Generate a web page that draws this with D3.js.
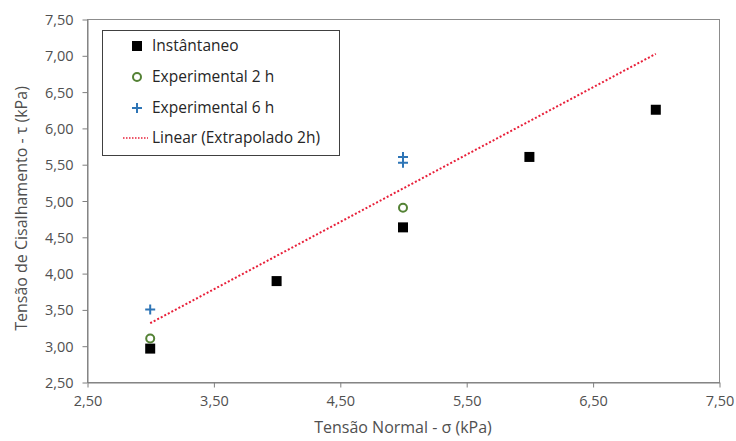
<!DOCTYPE html>
<html>
<head>
<meta charset="utf-8">
<script src="https://cdn.jsdelivr.net/npm/d3@7"></script>
<style>
  html, body { margin: 0; padding: 0; background: #fff; }
  svg { display: block; font-family: "Open Sans", "Noto Sans", sans-serif; }
</style>
</head>
<body>
<svg id="chart" width="736" height="441"></svg>
<script>
// Shear stress vs normal stress
const instX = [3, 4, 5, 6, 7];
const instY = [2.96, 3.89, 4.63, 5.60, 6.25];
const exp2X = [3, 5];
const exp2Y = [3.10, 4.90];
const exp6X = [3, 5, 5];
const exp6Y = [3.50, 5.52, 5.60];
const trendX = [3, 7];
const trendY = [3.31, 7.02];
const xTicks = [2.5, 3.5, 4.5, 5.5, 6.5, 7.5];
const yTicks = [2.5, 3.0, 3.5, 4.0, 4.5, 5.0, 5.5, 6.0, 6.5, 7.0, 7.5];
const legendLabels = ["Instântaneo", "Experimental 2 h", "Experimental 6 h", "Linear (Extrapolado 2h)"];

const svg = d3.select("#chart");
const m = { left: 87, right: 719, top: 19, bottom: 382 };
const x = d3.scaleLinear().domain([2.5, 7.5]).range([m.left, m.right]);
const y = d3.scaleLinear().domain([2.5, 7.5]).range([m.bottom, m.top]);
const fmt = v => d3.format(".2f")(v).replace(".", ",");
const axisColor = "#7f7f7f";
const textColor = "#505050";

// plot frame
svg.append("rect")
  .attr("x", m.left + 0.5).attr("y", m.top + 0.5)
  .attr("width", m.right - m.left).attr("height", m.bottom - m.top)
  .attr("fill", "none").attr("stroke", "#8c8c8c").attr("stroke-width", 1);

// axes
const xAxis = svg.append("g")
  .attr("transform", `translate(0.5,${m.bottom + 0.5})`)
  .call(d3.axisBottom(x).tickValues(xTicks).tickFormat(fmt).tickSizeOuter(0).tickSizeInner(5).tickPadding(8));
const yAxis = svg.append("g")
  .attr("transform", `translate(${m.left + 0.5},0.5)`)
  .call(d3.axisLeft(y).tickValues(yTicks).tickFormat(fmt).tickSizeOuter(0).tickSizeInner(5).tickPadding(9));
[xAxis, yAxis].forEach(g => {
  g.select(".domain").attr("stroke", axisColor);
  g.selectAll(".tick line").attr("stroke", axisColor);
  g.selectAll(".tick text").attr("fill", textColor).attr("font-size", 14.5)
    .attr("font-family", "'Open Sans', sans-serif");
});
yAxis.selectAll(".tick text").attr("dy", "0.35em");

// axis titles
svg.append("text")
  .attr("x", (m.left + m.right) / 2).attr("y", 433)
  .attr("text-anchor", "middle").attr("fill", textColor).attr("font-size", 16)
  .text("Tensão Normal - σ (kPa)");
svg.append("text")
  .attr("transform", `translate(27,${(m.top + m.bottom) / 2 + 8}) rotate(-90)`)
  .attr("text-anchor", "middle").attr("fill", textColor).attr("font-size", 16)
  .text("Tensão de Cisalhamento - τ (kPa)");

// trendline
svg.append("path")
  .datum(trendX.map((d, i) => [d, trendY[i]]))
  .attr("d", d3.line().x(d => x(d[0])).y(d => y(d[1])))
  .attr("fill", "none").attr("stroke", "#e8203a").attr("stroke-width", 2)
  .attr("stroke-dasharray", "2,2");

// markers
const sq = 10;
const green = "#548235", blue = "#2e75b6";
function square(g, cx, cy) {
  g.append("rect").attr("x", cx - sq / 2).attr("y", cy - sq / 2)
    .attr("width", sq).attr("height", sq).attr("fill", "#000");
}
function circle(g, cx, cy) {
  g.append("circle").attr("cx", cx).attr("cy", cy).attr("r", 4)
    .attr("fill", "#fff").attr("stroke", green).attr("stroke-width", 2);
}
function plus(g, cx, cy) {
  g.append("path").attr("d", `M${cx - 5},${cy}H${cx + 5}M${cx},${cy - 5}V${cy + 5}`)
    .attr("stroke", blue).attr("stroke-width", 2).attr("fill", "none");
}
const pts = svg.append("g");
instX.forEach((d, i) => square(pts, x(d), y(instY[i])));
exp2X.forEach((d, i) => circle(pts, x(d), y(exp2Y[i])));
exp6X.forEach((d, i) => plus(pts, x(d), y(exp6Y[i])));

// legend
const lg = svg.append("g");
lg.append("rect").attr("x", 102.5).attr("y", 30.5).attr("width", 237).attr("height", 125)
  .attr("fill", "#fff").attr("stroke", "#404040").attr("stroke-width", 1);
const rowY = [46, 77, 108, 138];
square(lg, 137, rowY[0]);
circle(lg, 137, rowY[1]);
plus(lg, 137, rowY[2]);
lg.append("line").attr("x1", 123).attr("x2", 148).attr("y1", rowY[3]).attr("y2", rowY[3])
  .attr("stroke", "#e8203a").attr("stroke-width", 1.5).attr("stroke-dasharray", "1.5,1.5");
legendLabels.forEach((t, i) => {
  lg.append("text").attr("x", 152).attr("y", rowY[i]).attr("dy", "0.35em")
    .attr("font-size", 15.5).attr("fill", "#262626").text(t);
});
</script>
</body>
</html>
